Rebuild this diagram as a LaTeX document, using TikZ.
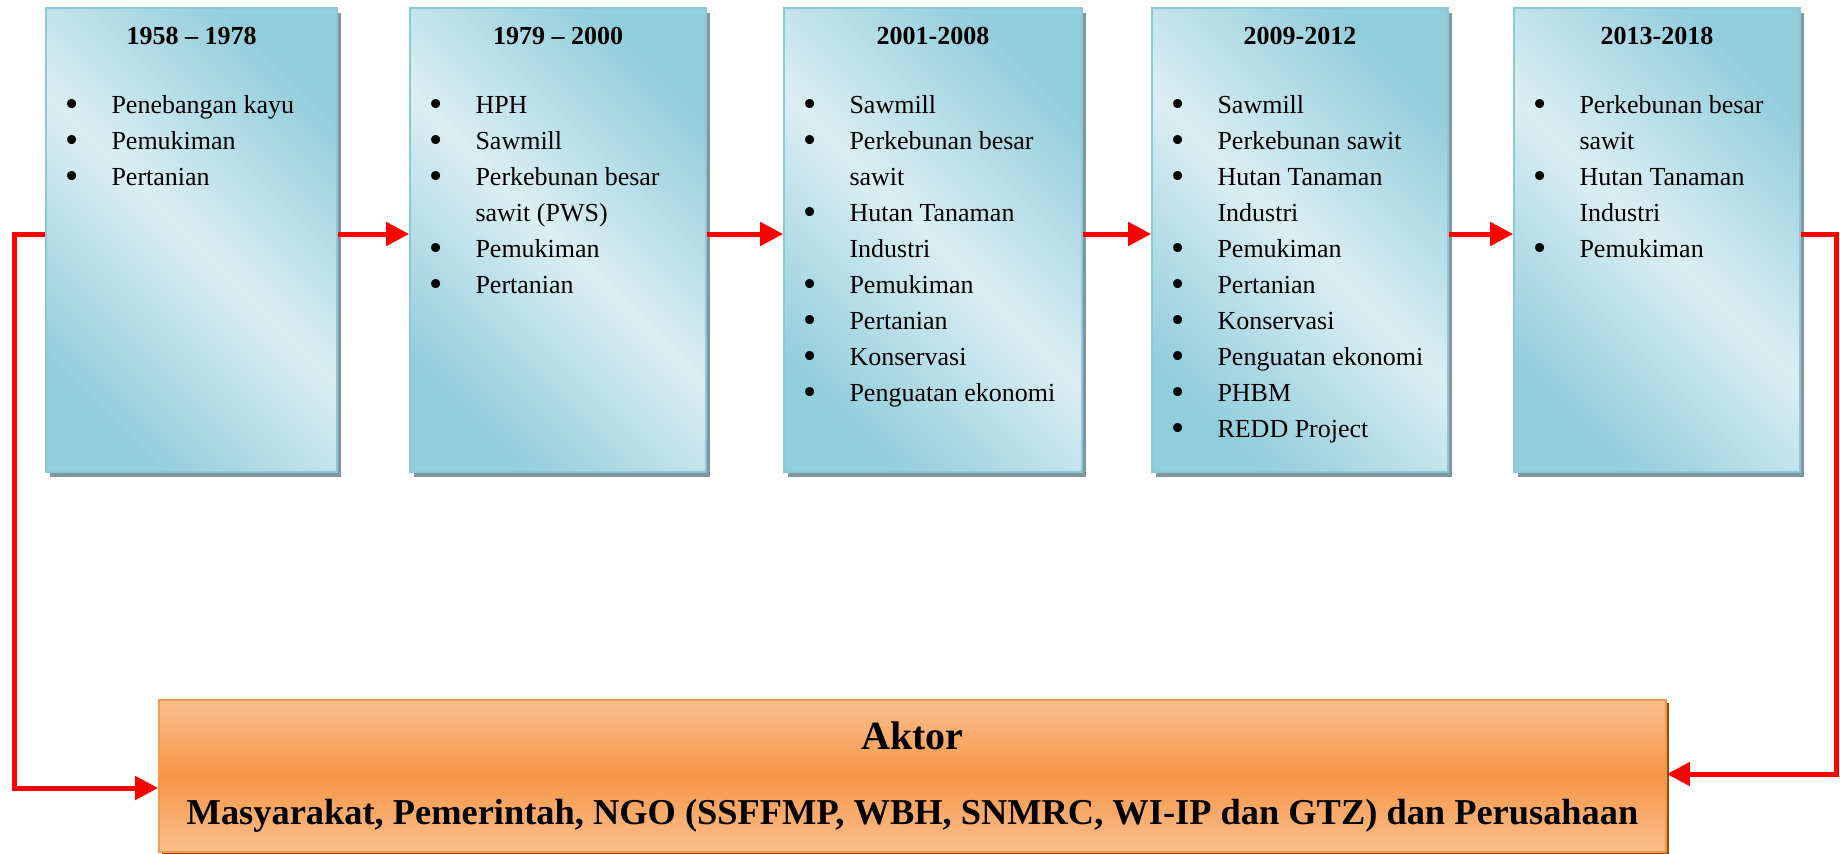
\documentclass[tikz,border=0pt]{standalone}
\usepackage{fontspec}
\setmainfont{Liberation Serif}
\usetikzlibrary{calc,fit,shadows,arrows.meta}

\newcommand{\bul}{\makebox[23pt][l]{\raisebox{-1.2pt}{\scalebox{1.45}{\textbullet}}}}
\newcommand{\cnt}{\hspace*{23pt}}

\begin{document}
\begin{tikzpicture}[x=0.5pt,y=-0.5pt,line join=miter,
  period/.style={rectangle,inner sep=0pt,draw=boxline,line width=0.9pt,
    top color=boxdark,bottom color=boxdark,middle color=boxlight,shading angle=-45,
    drop shadow={shadow xshift=2pt,shadow yshift=-2.5pt,fill=shadowcol,opacity=1}},
  actorbox/.style={rectangle,inner sep=0pt,draw=orline,line width=0.9pt,
    top color=orlight,bottom color=orlight,middle color=ordark,
    drop shadow={shadow xshift=1.5pt,shadow yshift=-1.5pt,fill=orshadow,opacity=1}},
  yearlabel/.style={font=\bfseries\fontsize{13}{16}\selectfont,anchor=base,inner sep=0pt},
  itemlist/.style={font=\fontsize{13}{18}\selectfont,align=left,anchor=north west,inner sep=0pt},
  actorlabel/.style={font=\bfseries\fontsize{20}{24}\selectfont,anchor=base,inner sep=0pt},
  flow/.style={draw=arrowred,line width=2.5pt,-{Triangle[length=11.5pt,width=11.5pt]}}]
  \definecolor{boxlight}{RGB}{219,238,243}
  \definecolor{boxdark}{RGB}{146,205,220}
  \definecolor{boxline}{RGB}{140,200,216}
  \definecolor{shadowcol}{RGB}{128,150,158}
  \definecolor{orlight}{RGB}{250,191,143}
  \definecolor{ordark}{RGB}{247,150,70}
  \definecolor{orline}{RGB}{247,150,70}
  \definecolor{orshadow}{RGB}{152,72,7}
  \definecolor{arrowred}{RGB}{255,0,0}

  \useasboundingbox (0,0) rectangle (1840,853);

  % ---- period boxes ----
  \node[period,fit={(46,8) (337,472)}] (p1) {};
  \node[period,fit={(410,8) (706,472)}] (p2) {};
  \node[period,fit={(784,8) (1082,472)}] (p3) {};
  \node[period,fit={(1152,8) (1448,472)}] (p4) {};
  \node[period,fit={(1514,8) (1800,472)}] (p5) {};

  % years
  \node[yearlabel] (y1) at ($(p1.north)+(0,37)$) {1958 -- 1978};
  \node[yearlabel] (y2) at ($(p2.north)+(0,37)$) {1979 -- 2000};
  \node[yearlabel] (y3) at ($(p3.north)+(0,37)$) {2001-2008};
  \node[yearlabel] (y4) at ($(p4.north)+(0,37)$) {2009-2012};
  \node[yearlabel] (y5) at ($(p5.north)+(0,37)$) {2013-2018};

  % activities
  \node[itemlist] (l1) at ($(p1.north west)+(20,81)$)
    {\strut\bul Penebangan kayu\\ \bul Pemukiman\\ \bul Pertanian};
  \node[itemlist] (l2) at ($(p2.north west)+(20,81)$)
    {\strut\bul HPH\\ \bul Sawmill\\ \bul Perkebunan besar\\ \cnt sawit (PWS)\\
     \bul Pemukiman\\ \bul Pertanian};
  \node[itemlist] (l3) at ($(p3.north west)+(20,81)$)
    {\strut\bul Sawmill\\ \bul Perkebunan besar\\ \cnt sawit\\ \bul Hutan Tanaman\\
     \cnt Industri\\ \bul Pemukiman\\ \bul Pertanian\\ \bul Konservasi\\
     \bul Penguatan ekonomi};
  \node[itemlist] (l4) at ($(p4.north west)+(20,81)$)
    {\strut\bul Sawmill\\ \bul Perkebunan sawit\\ \bul Hutan Tanaman\\ \cnt Industri\\
     \bul Pemukiman\\ \bul Pertanian\\ \bul Konservasi\\ \bul Penguatan ekonomi\\
     \bul PHBM\\ \bul REDD Project};
  \node[itemlist] (l5) at ($(p5.north west)+(20,81)$)
    {\strut\bul Perkebunan besar\\ \cnt sawit\\ \bul Hutan Tanaman\\ \cnt Industri\\
     \bul Pemukiman};

  % ---- actors ----
  \node[actorbox,fit={(159,700) (1666,852)}] (ak) {};
  \node[actorlabel] (akt) at ($(ak.north)+(0,50)$) {Aktor};
  \node[actorlabel,font=\bfseries\fontsize{18.2}{22}\selectfont] (akl) at ($(ak.north)+(0,125)$)
    {Masyarakat, Pemerintah, NGO (SSFFMP, WBH, SNMRC, WI-IP dan GTZ) dan Perusahaan};

  % ---- connectors ----
  \foreach \a/\b in {p1/p2,p2/p3,p3/p4,p4/p5}
    \draw[flow] ([yshift=3pt]\a.east) -- ([yshift=3pt]\b.west);
  \draw[flow] ([yshift=3pt]p1.west) -- ++(-31,0) |- ([yshift=-6pt]ak.west);
  \draw[flow] ([yshift=3pt]p5.east) -- ++(36,0) |- ([yshift=1pt]ak.east);
\end{tikzpicture}
\end{document}
